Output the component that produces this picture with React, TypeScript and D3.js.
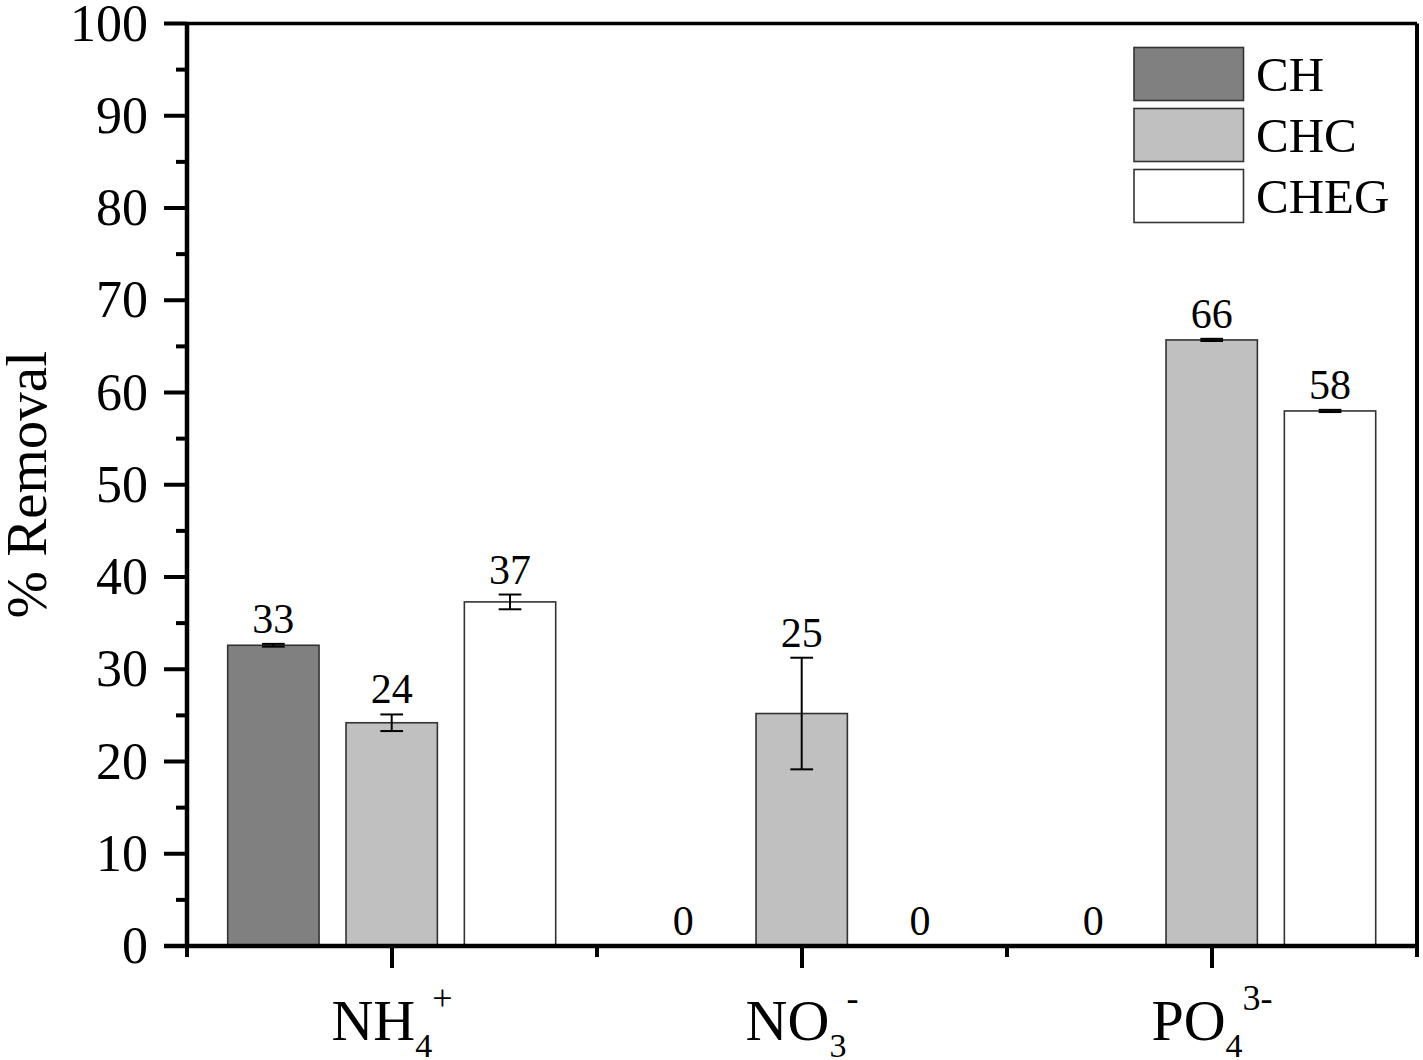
import React from "react";
import * as d3 from "d3";

const categories = ["NH4+", "NO3-", "PO43-"];
const catMain = ["NH", "NO", "PO"];
const catSub = ["4", "3", "4"];
const catSup = ["+", "-", "3-"];
const series = ["CH", "CHC", "CHEG"];
const seriesColors = ["#808080", "#c0c0c0", "#ffffff"];
const chValues = [32.6, 0, 0];
const chcValues = [24.2, 25.2, 65.7];
const chegValues = [37.3, 0, 58.0];
const chErr = [0.15, 0, 0];
const chcErr = [0.9, 6.05, 0.12];
const chegErr = [0.8, 0, 0.12];
const yTicks = [0, 10, 20, 30, 40, 50, 60, 70, 80, 90, 100];
const yMinorTicks = [5, 15, 25, 35, 45, 55, 65, 75, 85, 95];

const W = 1423;
const H = 1060;
const X0 = 187;
const X1 = 1417;
const YT = 23.5;
const YB = 946;
const FONT = "'Liberation Serif', 'Times New Roman', serif";

export default function App() {
  const values = [chValues, chcValues, chegValues];
  const errs = [chErr, chcErr, chegErr];
  const x = d3.scaleBand<string>().domain(categories).range([X0, X1]);
  const sub = d3
    .scaleBand<string>()
    .domain(series)
    .range([40.7, 368.7])
    .paddingInner(0.228);
  const y = d3.scaleLinear().domain([0, 100]).range([YB, YT]);
  const fmt = d3.format(".0f");
  const bw = sub.bandwidth();
  const capW = 22.7;
  const boundaries = [0, 1, 2, 3].map((i) => X0 + i * x.step());

  return (
    <svg
      width={W}
      height={H}
      style={{ position: "absolute", left: 0, top: 0, background: "#fff" }}
      fontFamily={FONT}
    >
      <rect x={0} y={0} width={W} height={H} fill="#fff" />
      {/* bars */}
      {categories.map((c, ci) =>
        series.map((s, si) => {
          const v = values[si][ci];
          const e = errs[si][ci];
          const bx = (x(c) as number) + (sub(s) as number);
          const cx = bx + bw / 2;
          const labelY = y(v + e) - 11;
          return (
            <g key={c + s}>
              {v > 0 && (
                <rect
                  x={bx}
                  y={y(v)}
                  width={bw}
                  height={y(0) - y(v)}
                  fill={seriesColors[si]}
                  stroke="#333"
                  strokeWidth={1.6}
                />
              )}
              {v > 0 && (
                <g stroke="#000" strokeWidth={2}>
                  <line x1={cx} x2={cx} y1={y(v + e)} y2={y(v - e)} />
                  <line x1={cx - capW / 2} x2={cx + capW / 2} y1={y(v + e)} y2={y(v + e)} />
                  <line x1={cx - capW / 2} x2={cx + capW / 2} y1={y(v - e)} y2={y(v - e)} />
                </g>
              )}
              <text x={cx} y={labelY} textAnchor="middle" fontSize={42} fill="#000">
                {fmt(v)}
              </text>
            </g>
          );
        })
      )}

      {/* frame */}
      <line x1={X0} x2={X1} y1={YT} y2={YT} stroke="#000" strokeWidth={3.5} />
      <line x1={X1} x2={X1} y1={YT} y2={YB} stroke="#000" strokeWidth={4} />

      {/* y axis */}
      <line x1={X0} x2={X0} y1={YT - 1.5} y2={YB + 2} stroke="#000" strokeWidth={4.5} />
      {yTicks.map((t) => (
        <g key={"yt" + t}>
          <line x1={X0 - 23} x2={X0} y1={y(t)} y2={y(t)} stroke="#000" strokeWidth={4} />
          <text x={X0 - 39} y={y(t) + 17} textAnchor="end" fontSize={52} fill="#000">
            {t}
          </text>
        </g>
      ))}
      {yMinorTicks.map((t) => (
        <line key={"ym" + t} x1={X0 - 11} x2={X0} y1={y(t)} y2={y(t)} stroke="#000" strokeWidth={4} />
      ))}
      <text
        transform={`translate(46, ${(YT + YB) / 2}) rotate(-90)`}
        textAnchor="middle"
        fontSize={57}
        fill="#000"
      >
        % Removal
      </text>

      {/* x axis */}
      <line x1={X0 - 23} x2={X1 + 2} y1={YB} y2={YB} stroke="#000" strokeWidth={4.5} />
      {boundaries.map((b, i) => (
        <line key={"xb" + i} x1={b} x2={b} y1={YB} y2={YB + 11} stroke="#000" strokeWidth={4} />
      ))}
      {categories.map((c, ci) => {
        const cx = (x(c) as number) + x.bandwidth() / 2;
        return (
          <g key={"xl" + c}>
            <line x1={cx} x2={cx} y1={YB} y2={YB + 22} stroke="#000" strokeWidth={4} />
            <text x={cx} y={1040} textAnchor="middle" fontSize={58} fill="#000">
              <tspan>{catMain[ci]}</tspan>
              <tspan fontSize={34} dy={17}>
                {catSub[ci]}
              </tspan>
              <tspan fontSize={36} dy={-47}>
                {catSup[ci]}
              </tspan>
            </text>
          </g>
        );
      })}

      {/* legend */}
      {series.map((s, si) => (
        <g key={"lg" + s} transform={`translate(1134, ${47.5 + si * 61})`}>
          <rect width={109.5} height={53} fill={seriesColors[si]} stroke="#333" strokeWidth={1.6} />
          <text x={122} y={43.5} fontSize={49} fill="#000">
            {s}
          </text>
        </g>
      ))}
    </svg>
  );
}
